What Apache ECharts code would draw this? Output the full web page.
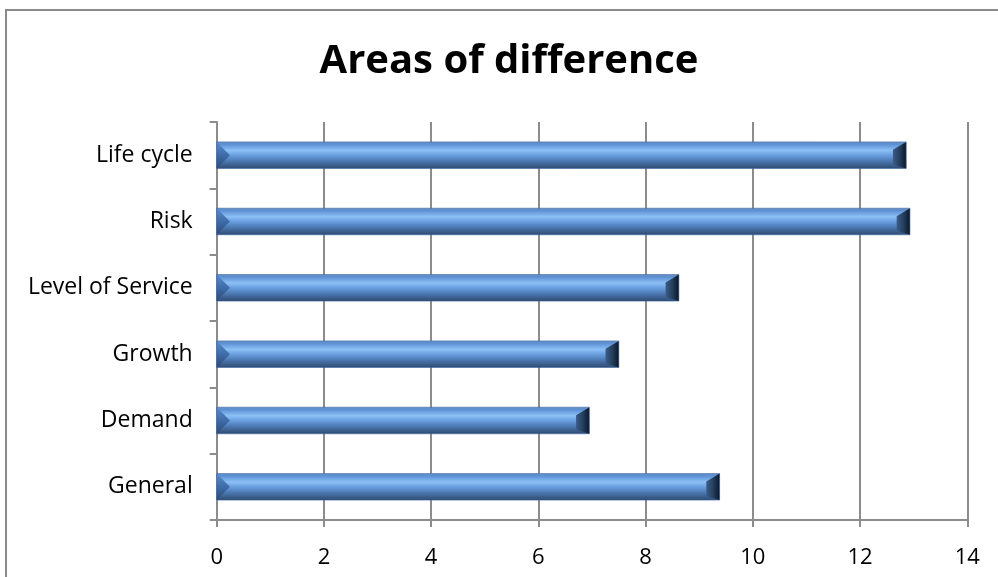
<!DOCTYPE html>
<html>
<head>
<meta charset="utf-8">
<script src="https://cdn.jsdelivr.net/npm/echarts@6/dist/echarts.min.js"></script>
<style>
  html, body { margin: 0; padding: 0; background: #fff; }
  #chart { width: 998px; height: 577px; }
</style>
</head>
<body>
<div id="chart"></div>
<script>
// ---- data ----
const categories = ['General', 'Demand', 'Growth', 'Level of Service', 'Risk', 'Life cycle'];
const values = [9.38, 6.95, 7.5, 8.62, 12.93, 12.86];
const xTicks = { min: 0, max: 14, interval: 2 };
const titleText = 'Areas of difference';

const chart = echarts.init(document.getElementById('chart'));

// bevelled bar: body + left/right end caps
const bodyFill = new echarts.graphic.LinearGradient(0, 0, 0, 1, [
  { offset: 0, color: '#6a93c8' },
  { offset: 0.08, color: '#5b8ed2' },
  { offset: 0.32, color: '#8cc0f6' },
  { offset: 0.5, color: '#6a9fe0' },
  { offset: 0.7, color: '#4e7cb6' },
  { offset: 0.88, color: '#3c5e8b' },
  { offset: 1, color: '#2e4c76' }
]);

function renderBar(params, api) {
  const cat = api.value(0);
  const val = api.value(1);
  const start = api.coord([0, cat]);
  const end = api.coord([val, cat]);
  const band = api.size([0, 1])[1];
  const h = band * 0.4;
  const x0 = start[0], x1 = end[0];
  const y0 = start[1] - h / 2, y1 = start[1] + h / 2, ym = start[1];
  const bev = h * 0.5;
  return {
    type: 'group',
    children: [
      { type: 'rect', shape: { x: x0, y: y0, width: x1 - x0, height: h },
        style: { fill: bodyFill } },
      { type: 'polygon', shape: { points: [[x0, y0], [x0 + bev, ym], [x0, y1]] },
        style: { fill: new echarts.graphic.LinearGradient(0, 0, 0, 1, [
          { offset: 0, color: '#5a8bcb' }, { offset: 0.5, color: '#3f6ca8' }, { offset: 1, color: '#2c4a75' }]) } },
      { type: 'polygon', shape: { points: [[x1, y0], [x1 - bev, y0 + h * 0.3], [x1 - bev, y1 - h * 0.15], [x1, y1]] },
        style: { fill: new echarts.graphic.LinearGradient(0, 0, 1, 0, [
          { offset: 0, color: '#3a5c8a' }, { offset: 0.5, color: '#25405f' }, { offset: 1, color: '#0c1628' }]) } },
      { type: 'rect', shape: { x: x0, y: y0, width: x1 - x0, height: h },
        style: { fill: 'none', stroke: 'rgba(60,100,160,0.6)', lineWidth: 1 } }
    ]
  };
}

chart.setOption({
  backgroundColor: '#fff',
  animation: false,
  title: {
    text: titleText,
    left: 504, top: 37, textAlign: 'center',
    textStyle: { fontFamily: 'Open Sans', fontWeight: 'bold', fontSize: 40, color: '#000' }
  },
  graphic: [{
    type: 'rect', silent: true,
    shape: { x: 6, y: 10, width: 1000, height: 600 },
    style: { fill: 'none', stroke: '#8a8a8a', lineWidth: 2 }
  }],
  grid: { left: 216.7, right: 30.7, top: 122, bottom: 57 },
  xAxis: {
    type: 'value',
    min: xTicks.min, max: xTicks.max, interval: xTicks.interval,
    axisLine: { show: true, lineStyle: { color: '#8c8c8c', width: 2 } },
    axisTick: { show: true, length: 7, lineStyle: { color: '#8c8c8c', width: 2 } },
    splitLine: { show: true, lineStyle: { color: '#8c8c8c', width: 2 } },
    axisLabel: { color: '#000', fontSize: 22, fontFamily: 'Open Sans', margin: 27 }
  },
  yAxis: {
    type: 'category',
    data: categories,
    axisLine: { show: true, lineStyle: { color: '#8c8c8c', width: 2 } },
    axisTick: { show: true, length: 7, lineStyle: { color: '#8c8c8c', width: 2 } },
    axisLabel: { color: '#000', fontSize: 23, fontFamily: 'Open Sans', margin: 24 }
  },
  series: [{
    type: 'custom',
    renderItem: renderBar,
    encode: { x: 1, y: 0 },
    data: values.map((v, i) => [i, v])
  }]
});
</script>
</body>
</html>
